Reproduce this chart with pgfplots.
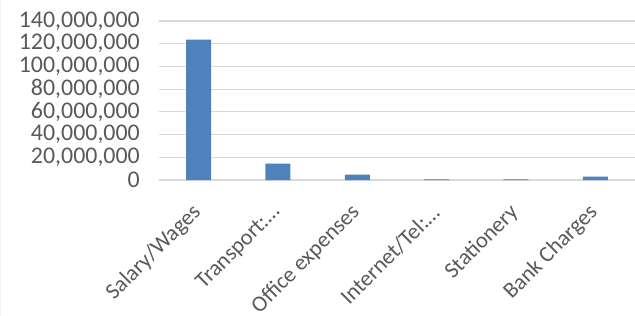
\documentclass[border=0pt]{standalone}
\usepackage{pgfplots}
\pgfplotsset{compat=1.18}
\usepackage{fontspec}
\setmainfont{Carlito}
\definecolor{barblue}{RGB}{79,129,189}
\definecolor{gridgray}{RGB}{217,217,217}
\definecolor{textgray}{RGB}{89,89,89}
\begin{document}
\begin{tikzpicture}
\begin{axis}[
  at={(0,0)}, anchor=south west,
  scale only axis,
  width=476bp, height=159bp,
  xmin=-0.5, xmax=5.5,
  ymin=0, ymax=140000000,
  ytick={0,20000000,40000000,60000000,80000000,100000000,120000000,140000000},
  scaled y ticks=false,
  /pgf/number format/.cd, fixed, 1000 sep={,}, assume math mode=true,
  /pgfplots/.cd,
  xtick=data,
  xticklabels={Salary/Wages,Transport:\dots,Office expenses,Internet/Tel:\dots,Stationery,Bank Charges},
  ticklabel style={font=\fontsize{24}{27}\selectfont, text=textgray},
  x tick label style={font=\fontsize{22.5}{26}\selectfont, anchor=east, xshift=-1bp, yshift=-29bp, rotate=45, inner sep=0bp},
  y tick label style={inner sep=1bp, xshift=-18bp},
  major tick length=0pt,
  ymajorgrids,
  grid style={gridgray, line width=1.2bp},
  axis line style={draw=none},
  ybar,
  bar width=25bp,
]
\addplot[fill=barblue, draw=none] coordinates {
(0,123500000) (1,14500000) (2,4700000) (3,500000) (4,500000) (5,2900000)
};
\end{axis}
\draw[gray!12, line width=0.8bp] (-158.5bp,-136bp) -- (-158.5bp,180bp);
\pgfresetboundingbox
\useasboundingbox (-159bp,-136bp) rectangle (476bp,180bp);
\end{tikzpicture}
\end{document}
